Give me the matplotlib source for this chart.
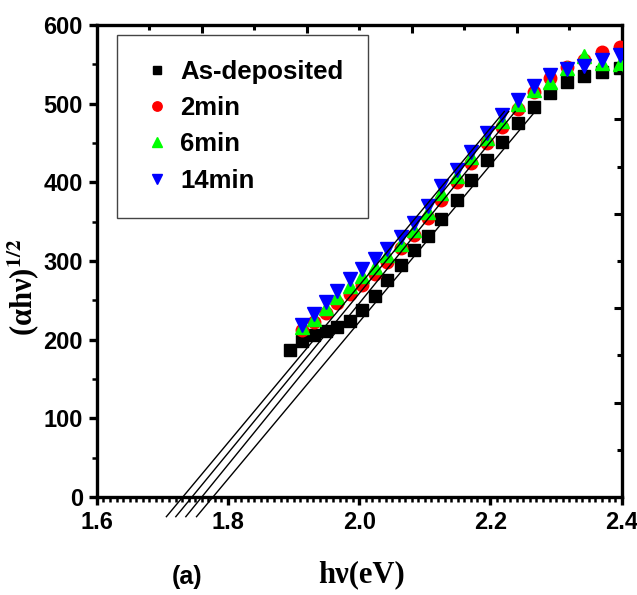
import numpy as np
import matplotlib.pyplot as plt
from matplotlib.ticker import MultipleLocator, FixedLocator

plt.rcParams['font.family'] = ['Liberation Sans', 'DejaVu Sans']
plt.rcParams['font.weight'] = 'bold'
plt.rcParams['mathtext.fontset'] = 'stix'

# photon energy (eV) for each measured point
e_asdep = [1.894, 1.912, 1.931, 1.949, 1.966, 1.986, 2.004, 2.024, 2.043, 2.063, 2.083, 2.104,
           2.124, 2.149, 2.171, 2.194, 2.217, 2.242, 2.266, 2.290, 2.316, 2.342, 2.370, 2.397]
e_ann = e_asdep[1:]

# (alpha h nu)^1/2 values
y_asdep = [187, 198, 206, 211, 216, 224, 238, 255, 276, 295, 314, 332,
           353, 378, 403, 428, 451, 475, 496, 514, 528, 535, 540, 545]
y_2min = [212, 222, 234, 246, 258, 270, 284, 299, 316, 333, 355, 378,
          400, 425, 450, 470, 493, 515, 532, 547, 556, 566, 572]
y_6min = [216, 226, 240, 254, 268, 281, 293, 307, 322, 340, 362, 386,
          408, 432, 456, 478, 500, 517, 528, 545, 561, 552, 551]
y_14min = [219, 232, 248, 262, 277, 290, 302, 315, 330, 348, 370, 395,
           416, 439, 463, 486, 505, 522, 536, 544, 548, 555, 562]

labels = ['As-deposited', '2min', '6min', '14min']
colors = ['black', '#ff0000', '#00ff00', '#0000ff']
markers = ['s', 'o', '^', 'v']

# linear fits: band gap (x intercept) and slope
fit_eg = [1.777, 1.760, 1.745, 1.731]
fit_slope = [998, 1026, 1015, 1000]
fit_yrange = [-25, 490]

fig = plt.figure(figsize=(6.37, 5.95), dpi=100)
ax = fig.add_axes([0.152, 0.1647, 0.824, 0.7933])

xs = [e_asdep, e_ann, e_ann, e_ann]
ys = [y_asdep, y_2min, y_6min, y_14min]
sizes = [8.5, 9, 10, 10]
for x, y, lab, c, m, s in zip(xs, ys, labels, colors, markers, sizes):
    ax.plot(x, y, ls='none', marker=m, color=c, ms=s, mec=c, label=lab, zorder=3)

for eg, k in zip(fit_eg, fit_slope):
    yy = np.array(fit_yrange, dtype=float)
    ax.plot(eg + yy / k, yy, color='black', lw=1.0, zorder=4, clip_on=False)

ax.set_xlim(1.6, 2.4)
ax.set_ylim(0, 600)
ax.xaxis.set_major_locator(MultipleLocator(0.2))
ax.xaxis.set_minor_locator(MultipleLocator(0.01))
ax.yaxis.set_major_locator(MultipleLocator(100))
ax.yaxis.set_minor_locator(MultipleLocator(50))
ax.xaxis.set_major_formatter(plt.FuncFormatter(lambda v, p: '%.1f' % v))

for sp in ax.spines.values():
    sp.set_linewidth(2.4)

ax.tick_params(which='major', direction='out', length=6, width=2.4, labelsize=17, pad=4)
ax.tick_params(which='minor', direction='out', length=3.5, width=1.8)
ax.tick_params(top=False, right=False, which='both')

# top and right ticks (inward, no labels)
axt = ax.twiny()
axt.set_xlim(1.6, 2.4)
axt.xaxis.set_major_locator(FixedLocator([1.76, 1.92, 2.08, 2.24]))
axt.xaxis.set_minor_locator(FixedLocator([1.68, 1.84, 2.00, 2.16, 2.32]))
axt.tick_params(which='major', direction='in', length=6, width=2.2, labeltop=False)
axt.tick_params(which='minor', direction='in', length=3.5, width=2.2)
for sp in axt.spines.values():
    sp.set_visible(False)

axr = ax.twinx()
axr.set_ylim(0, 600)
axr.yaxis.set_major_locator(FixedLocator([120, 240, 360, 480]))
axr.yaxis.set_minor_locator(FixedLocator([60, 180, 300, 420, 540]))
axr.tick_params(which='major', direction='in', length=6, width=2.2, labelright=False)
axr.tick_params(which='minor', direction='in', length=3.5, width=2.2)
for sp in axr.spines.values():
    sp.set_visible(False)

leg = ax.legend(loc='upper left', bbox_to_anchor=(0.038, 0.979), borderaxespad=0,
                fontsize=18.5, frameon=True, fancybox=False, framealpha=1,
                edgecolor='#444444', markerscale=0.75, handlelength=1.2,
                handletextpad=0.3, labelspacing=0.48, borderpad=0.97)
leg.get_frame().set_linewidth(1.0)
leg.set_zorder(2)

fig.text(24 / 637, 1 - 287 / 595, r'(αhν)$^{1/2}$', rotation=90, ha='center', va='center',
         family='Liberation Serif', fontweight='bold', fontsize=22)
fig.text(362 / 637, 1 - 575 / 595, 'hν(eV)', ha='center', va='center',
         family='Liberation Serif', fontweight='bold', fontsize=22)
fig.text(187 / 637, 1 - 577 / 595, '(a)', ha='center', va='center', fontsize=18, fontweight='bold')

fig.savefig('out.png', dpi=100)
